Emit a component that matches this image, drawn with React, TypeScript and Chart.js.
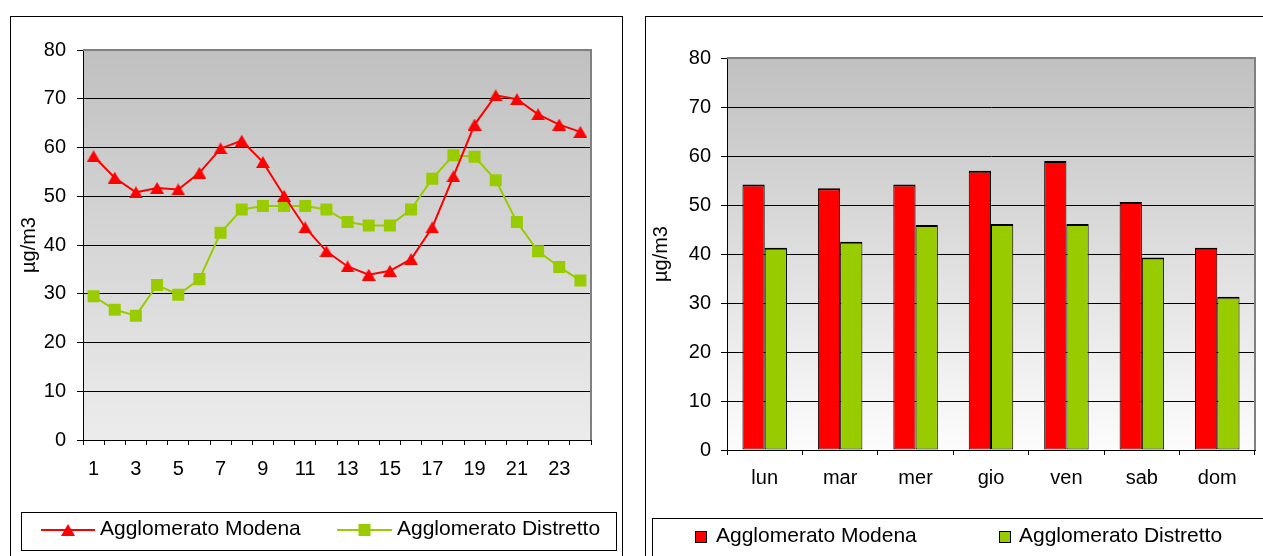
import React, { useEffect, useRef } from 'react';
import { Chart, registerables } from 'chart.js';

Chart.register(...registerables);

// ---- Data ----
const hourLabels = ['1', '2', '3', '4', '5', '6', '7', '8', '9', '10', '11', '12', '13', '14', '15', '16', '17', '18', '19', '20', '21', '22', '23', '24'];
const modenaHourly = [58.2, 53.8, 50.8, 51.7, 51.4, 54.8, 59.8, 61.4, 57.0, 50.1, 43.6, 38.7, 35.6, 33.9, 34.7, 37.1, 43.6, 54.1, 64.7, 70.7, 69.9, 66.8, 64.7, 63.2];
const distrettoHourly = [29.5, 26.7, 25.5, 31.8, 29.8, 33.0, 42.5, 47.3, 48.0, 48.0, 48.0, 47.3, 44.7, 44.0, 44.0, 47.3, 53.6, 58.4, 58.1, 53.3, 44.7, 38.7, 35.5, 32.7];

const dayLabels = ['lun', 'mar', 'mer', 'gio', 'ven', 'sab', 'dom'];
const modenaDaily = [54.2, 53.4, 54.2, 57.0, 59.0, 50.6, 41.3];
const distrettoDaily = [41.3, 42.5, 45.9, 46.1, 46.1, 39.3, 31.3];

const seriesNames = ['Agglomerato Modena', 'Agglomerato Distretto'];
const yAxisTitle = 'µg/m3';
const yMin = 0;
const yMax = 80;
const yStep = 10;

// ---- Styles ----
const RED = '#ff0000';
const GREEN = '#99cc00';
const FONT = '"Liberation Sans", Arial, sans-serif';

function makeTriangle(w: number, h: number, color: string): HTMLCanvasElement {
  const c = document.createElement('canvas');
  c.width = w;
  c.height = h;
  const g = c.getContext('2d')!;
  g.fillStyle = color;
  g.beginPath();
  g.moveTo(w / 2, 0);
  g.lineTo(w, h);
  g.lineTo(0, h);
  g.closePath();
  g.fill();
  return c;
}

function framePlugin(topColor: string, bottomColor: string) {
  return {
    id: 'plotFrame',
    beforeDraw(chart: any) {
      const { ctx, chartArea: a } = chart;
      const grad = ctx.createLinearGradient(0, a.top, 0, a.bottom);
      grad.addColorStop(0, topColor);
      grad.addColorStop(1, bottomColor);
      ctx.save();
      ctx.fillStyle = grad;
      ctx.fillRect(a.left, a.top, a.right - a.left, a.bottom - a.top);
      ctx.restore();
    },
    afterDraw(chart: any) {
      const { ctx, chartArea: a } = chart;
      ctx.save();
      ctx.strokeStyle = '#808080';
      ctx.lineWidth = 2;
      ctx.beginPath();
      ctx.moveTo(a.left, a.top);
      ctx.lineTo(a.right, a.top);
      ctx.lineTo(a.right, a.bottom);
      ctx.stroke();
      ctx.restore();
    },
  };
}

function yScale(width: number, tickPad: number, titlePad: number) {
  return {
    min: yMin,
    max: yMax,
    ticks: { stepSize: yStep, padding: tickPad, color: '#000', font: { family: FONT, size: 20 } },
    grid: {
      color: (c: any) => (c.tick && c.tick.value === yMax ? 'rgba(0,0,0,0)' : '#000'),
      tickColor: '#000',
      tickLength: 6,
      lineWidth: 1,
    },
    border: { display: true, color: '#000', width: 1 },
    title: {
      display: true,
      text: yAxisTitle,
      color: '#000',
      font: { family: FONT, size: 20 },
      padding: { top: titlePad, bottom: 0 },
    },
    afterFit: (s: any) => {
      s.width = width;
      s.paddingTop = 0;
      s.paddingBottom = 0;
    },
  };
}

function xScale(tickPad: number, callback?: any) {
  return {
    type: 'category',
    offset: true,
    grid: { display: true, offset: true, drawOnChartArea: false, drawTicks: true, tickLength: 5, tickColor: '#000', color: '#000', lineWidth: 1 },
    border: { display: true, color: '#000', width: 1 },
    ticks: {
      autoSkip: false,
      maxRotation: 0,
      padding: tickPad,
      color: '#000',
      font: { family: FONT, size: 20 },
      ...(callback ? { callback } : {}),
    },
    afterFit: (s: any) => {
      s.height = 50;
      s.paddingLeft = 0;
      s.paddingRight = 0;
    },
  };
}

export default function App() {
  const leftRef = useRef<HTMLCanvasElement | null>(null);
  const rightRef = useRef<HTMLCanvasElement | null>(null);

  useEffect(() => {
    const tri = makeTriangle(14, 12, RED);

    const leftLegend = {
      id: 'leftLegend',
      afterDraw(chart: any) {
        const ctx = chart.ctx;
        ctx.save();
        ctx.strokeStyle = '#000';
        ctx.lineWidth = 1;
        ctx.strokeRect(21.5, 512.5, 595, 38);
        // item 1
        ctx.strokeStyle = RED;
        ctx.lineWidth = 2;
        ctx.beginPath();
        ctx.moveTo(41, 530);
        ctx.lineTo(95, 530);
        ctx.stroke();
        ctx.drawImage(tri, 68 - 7, 530 - 6);
        // item 2
        ctx.strokeStyle = GREEN;
        ctx.beginPath();
        ctx.moveTo(337, 530);
        ctx.lineTo(392, 530);
        ctx.stroke();
        ctx.fillStyle = GREEN;
        ctx.fillRect(364.5 - 6, 530 - 6, 12, 12);
        ctx.fillStyle = '#000';
        ctx.font = `21px ${FONT}`;
        ctx.textBaseline = 'middle';
        ctx.textAlign = 'left';
        ctx.fillText(seriesNames[0], 100, 529);
        ctx.fillText(seriesNames[1], 397, 529);
        ctx.restore();
      },
    };

    const rightLegend = {
      id: 'rightLegend',
      afterDraw(chart: any) {
        const ctx = chart.ctx;
        ctx.save();
        ctx.strokeStyle = '#000';
        ctx.lineWidth = 1;
        ctx.strokeRect(21.5, 518.5, 700, 100);
        ctx.fillStyle = RED;
        ctx.fillRect(64.5, 531.5, 11, 11);
        ctx.strokeRect(64.5, 531.5, 11, 11);
        ctx.fillStyle = GREEN;
        ctx.fillRect(368.5, 531.5, 11, 11);
        ctx.strokeRect(368.5, 531.5, 11, 11);
        ctx.fillStyle = '#000';
        ctx.font = `21px ${FONT}`;
        ctx.textBaseline = 'middle';
        ctx.textAlign = 'left';
        ctx.fillText(seriesNames[0], 85, 536);
        ctx.fillText(seriesNames[1], 388, 536);
        ctx.restore();
      },
    };

    const left = new Chart(leftRef.current!, {
      type: 'line',
      data: {
        labels: hourLabels,
        datasets: [
          {
            label: seriesNames[0],
            data: modenaHourly,
            borderColor: RED,
            backgroundColor: RED,
            borderWidth: 2,
            pointStyle: tri as any,
            pointRadius: 7,
            tension: 0,
          },
          {
            label: seriesNames[1],
            data: distrettoHourly,
            borderColor: GREEN,
            backgroundColor: GREEN,
            borderWidth: 2,
            pointStyle: 'rect',
            pointRadius: 8.5,
            pointBorderWidth: 0,
            tension: 0,
          },
        ],
      },
      options: {
        responsive: false,
        animation: false,
        devicePixelRatio: 1,
        layout: { padding: { left: 0, right: 40, top: 50, bottom: 66 } },
        scales: {
          x: xScale(12, (_v: any, i: number) => (i % 2 === 0 ? hourLabels[i] : '')) as any,
          y: yScale(83, 11, 17) as any,
        },
        plugins: { legend: { display: false }, tooltip: { enabled: false } },
      },
      plugins: [framePlugin('#c0c0c0', '#ececec'), leftLegend],
    });

    const barBorder = { top: 2, left: 1, right: 1, bottom: 1 };

    const right = new Chart(rightRef.current!, {
      type: 'bar',
      data: {
        labels: dayLabels,
        datasets: [
          {
            label: seriesNames[0],
            data: modenaDaily,
            backgroundColor: RED,
            borderColor: '#000',
            borderWidth: barBorder,
            borderSkipped: false,
            categoryPercentage: 0.59,
            barPercentage: 1,
          },
          {
            label: seriesNames[1],
            data: distrettoDaily,
            backgroundColor: GREEN,
            borderColor: '#000',
            borderWidth: barBorder,
            borderSkipped: false,
            categoryPercentage: 0.59,
            barPercentage: 1,
          },
        ],
      },
      options: {
        responsive: false,
        animation: false,
        devicePixelRatio: 1,
        layout: { padding: { left: 0, right: 8, top: 58, bottom: 56 } },
        scales: {
          x: xScale(11) as any,
          y: yScale(96, 10, 18) as any,
        },
        plugins: { legend: { display: false }, tooltip: { enabled: false } },
      },
      plugins: [framePlugin('#c0c0c0', '#fcfcfc'), rightLegend],
    });

    return () => {
      left.destroy();
      right.destroy();
    };
  }, []);

  return (
    <div style={{ position: 'fixed', left: 0, top: 0, width: 1263, height: 556, overflow: 'hidden', background: '#fff' }}>
      <div style={{ position: 'absolute', left: 10, top: 16, width: 611, height: 600, border: '1px solid #000' }} />
      <div style={{ position: 'absolute', left: 645, top: 16, width: 700, height: 600, border: '1px solid #000' }} />
      <canvas ref={leftRef} width={631} height={556} style={{ position: 'absolute', left: 0, top: 0, width: 631, height: 556 }} />
      <canvas ref={rightRef} width={632} height={556} style={{ position: 'absolute', left: 631, top: 0, width: 632, height: 556 }} />
    </div>
  );
}
